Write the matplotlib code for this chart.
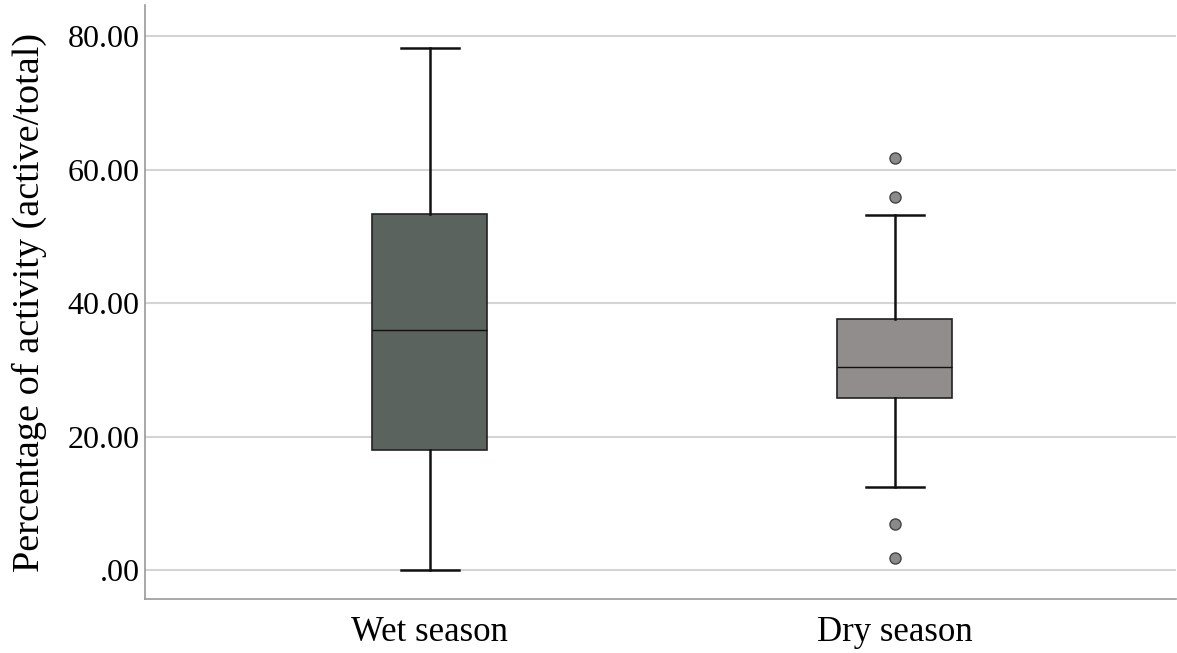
import matplotlib
matplotlib.use("Agg")
import matplotlib.pyplot as plt

# values
categories = ["Wet season", "Dry season"]
whisker_low = [0.0, 12.4]
q1 = [18.0, 25.8]
medians = [36.0, 30.4]
q3 = [53.3, 37.7]
whisker_high = [78.2, 53.2]
outliers = [[], [61.7, 55.9, 6.9, 1.8]]
box_colors = ["#5a635e", "#918d8d"]
y_ticks = [0, 20, 40, 60, 80]
y_tick_labels = [".00", "20.00", "40.00", "60.00", "80.00"]

plt.rcParams["font.family"] = ["Liberation Serif", "DejaVu Serif"]

fig = plt.figure(figsize=(11.77, 6.53), dpi=100)
ax = fig.add_axes([0.1232, 0.0827, 0.876, 0.909])

stats = []
for i, name in enumerate(categories):
    stats.append({
        "label": name,
        "whislo": whisker_low[i],
        "q1": q1[i],
        "med": medians[i],
        "q3": q3[i],
        "whishi": whisker_high[i],
        "fliers": outliers[i],
    })

bp = ax.bxp(stats, positions=[0, 1], widths=0.247, patch_artist=True,
            showfliers=True,
            boxprops=dict(edgecolor="#222222", linewidth=1.2),
            medianprops=dict(color="#111111", linewidth=1.0),
            whiskerprops=dict(color="#111111", linewidth=1.8),
            capprops=dict(color="#111111", linewidth=1.8),
            capwidths=0.125,
            flierprops=dict(marker="o", markersize=8, markerfacecolor="#8a8a8a",
                            markeredgecolor="#444444", markeredgewidth=1.0))
for patch, c in zip(bp["boxes"], box_colors):
    patch.set_facecolor(c)

ax.set_xlim(-0.612, 1.605)
ax.set_ylim(-4.3, 84.6)
ax.set_yticks(y_ticks)
ax.set_yticklabels(y_tick_labels)
ax.yaxis.grid(True, color="#d4d4d4", linewidth=1.5)
ax.set_axisbelow(True)
ax.tick_params(axis="y", length=0, labelsize=23, pad=4)
ax.tick_params(axis="x", length=0, labelsize=25, pad=12)
ax.set_ylabel("Percentage of activity (active/total)", fontsize=27.5, labelpad=15)

for side in ["top", "right"]:
    ax.spines[side].set_visible(False)
for side in ["left", "bottom"]:
    ax.spines[side].set_color("#999999")
    ax.spines[side].set_linewidth(1.2)

fig.savefig("out.png", dpi=100)
